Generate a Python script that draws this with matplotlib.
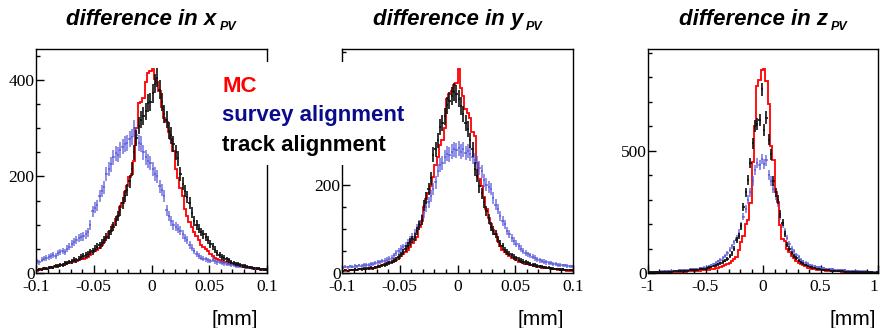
import numpy as np
import matplotlib
matplotlib.use("Agg")
import matplotlib.pyplot as plt
from matplotlib.patches import Rectangle
from matplotlib.ticker import FixedLocator, MultipleLocator, FuncFormatter

# ---------------------------------------------------------------
# data: 100 bins per histogram
x_range = (-0.1, 0.1)
y_range = (-0.1, 0.1)
z_range = (-1.0, 1.0)

x_mc = [5, 6, 9, 10, 9, 11, 12, 13, 14, 15,
        16, 17, 19, 21, 20, 22, 23, 24, 26, 28,
        30, 31, 33, 38, 43, 46, 48, 52, 58, 64,
        72, 84, 88, 100, 112, 118, 136, 146, 168, 180,
        198, 205, 232, 300, 352, 355, 362, 396, 415, 418,
        422, 402, 396, 378, 345, 322, 312, 292, 277, 252,
        216, 196, 176, 160, 132, 118, 106, 96, 86, 76,
        68, 58, 53, 49, 45, 40, 35, 32, 30, 27,
        25, 23, 22, 21, 19, 18, 16, 15, 14, 13,
        12, 11, 10, 10, 9, 8, 8, 7, 7, 6]
x_survey = [24, 22, 27, 30, 31, 33, 36, 38, 35, 42,
            44, 46, 43, 50, 54, 60, 64, 68, 72, 74,
            76, 80, 84, 100, 128, 135, 140, 160, 170, 178,
            205, 215, 225, 240, 248, 245, 255, 262, 268, 270,
            278, 282, 300, 285, 270, 268, 250, 240, 232, 228,
            215, 205, 200, 180, 172, 160, 130, 118, 108, 100,
            96, 92, 88, 80, 72, 68, 58, 52, 46, 40,
            36, 32, 30, 28, 26, 25, 27, 24, 22, 23,
            21, 20, 19, 18, 17, 16, 15, 14, 14, 13,
            12, 12, 11, 10, 10, 9, 9, 8, 8, 7]
x_track = [6, 8, 7, 10, 9, 11, 12, 11, 14, 15,
           17, 16, 20, 21, 23, 24, 27, 26, 30, 33,
           35, 37, 40, 44, 45, 50, 54, 57, 62, 68,
           74, 80, 88, 96, 108, 118, 130, 145, 160, 172,
           190, 215, 250, 280, 305, 318, 325, 335, 352, 355,
           372, 392, 405, 380, 355, 330, 318, 295, 285, 268,
           250, 238, 205, 185, 170, 158, 145, 125, 108, 100,
           92, 85, 80, 74, 68, 60, 55, 48, 42, 38,
           33, 31, 28, 26, 23, 21, 19, 18, 16, 15,
           14, 13, 12, 11, 10, 10, 9, 8, 8, 7]

y_mc = [4, 5, 5, 6, 6, 7, 7, 8, 8, 9,
        9, 10, 10, 11, 12, 14, 16, 18, 20, 22,
        24, 26, 28, 30, 35, 38, 42, 47, 52, 58,
        68, 75, 82, 105, 118, 150, 168, 180, 198, 218,
        245, 262, 290, 300, 328, 395, 405, 412, 425, 430,
        461, 418, 400, 372, 362, 350, 320, 310, 250, 212,
        196, 172, 145, 125, 110, 98, 88, 72, 60, 52,
        48, 44, 38, 35, 33, 30, 26, 24, 23, 21,
        20, 19, 18, 15, 14, 13, 12, 12, 11, 11,
        9, 8, 8, 7, 7, 6, 6, 5, 5, 5]
y_survey = [12, 14, 13, 15, 14, 16, 15, 17, 16, 18,
            19, 18, 20, 21, 22, 24, 25, 27, 28, 30,
            32, 35, 40, 45, 50, 55, 58, 62, 68, 75,
            82, 90, 100, 110, 122, 135, 150, 160, 175, 190,
            205, 232, 245, 250, 262, 270, 268, 275, 280, 278,
            282, 275, 280, 272, 276, 270, 262, 255, 250, 238,
            230, 210, 200, 195, 190, 170, 155, 145, 130, 118,
            110, 95, 88, 80, 72, 66, 60, 55, 50, 46,
            42, 40, 37, 34, 31, 29, 27, 26, 24, 23,
            22, 21, 20, 19, 18, 17, 17, 16, 15, 15]
y_track = [5, 6, 4, 7, 6, 8, 7, 9, 8, 10,
           10, 11, 12, 11, 13, 14, 15, 17, 18, 20,
           22, 25, 28, 30, 36, 42, 48, 55, 62, 70,
           76, 82, 95, 108, 120, 152, 170, 190, 215, 268,
           280, 300, 330, 340, 355, 380, 390, 400, 410, 405,
           395, 378, 360, 340, 325, 300, 280, 235, 220, 196,
           180, 160, 140, 122, 105, 96, 88, 76, 66, 60,
           52, 48, 44, 40, 36, 33, 30, 28, 26, 24,
           23, 21, 19, 18, 16, 15, 14, 13, 12, 12,
           11, 10, 9, 9, 8, 8, 7, 7, 6, 6]

z_mc = [2, 3, 2, 3, 3, 4, 3, 4, 4, 5,
        4, 5, 5, 6, 6, 7, 6, 7, 8, 8,
        9, 9, 10, 11, 12, 12, 14, 15, 17, 19,
        22, 25, 28, 32, 36, 42, 50, 58, 66, 95,
        125, 150, 200, 215, 285, 455, 600, 765, 790, 830,
        832, 785, 690, 520, 462, 330, 290, 195, 140, 132,
        100, 85, 68, 60, 50, 42, 38, 32, 28, 22,
        20, 18, 16, 14, 13, 12, 11, 10, 9, 9,
        8, 8, 7, 7, 6, 6, 5, 5, 5, 4,
        4, 4, 3, 4, 3, 3, 2, 3, 2, 2]
z_survey = [4, 5, 5, 6, 6, 7, 7, 8, 8, 9,
            9, 10, 10, 11, 12, 12, 13, 14, 15, 16,
            17, 18, 19, 20, 22, 25, 28, 32, 36, 42,
            48, 54, 62, 70, 80, 95, 110, 125, 145, 165,
            195, 230, 260, 300, 330, 375, 420, 450, 440, 465,
            445, 460, 400, 375, 345, 315, 285, 230, 200, 170,
            145, 120, 100, 88, 75, 65, 55, 48, 42, 38,
            33, 30, 28, 25, 23, 21, 19, 18, 17, 16,
            15, 14, 13, 12, 12, 11, 10, 10, 9, 9,
            8, 8, 7, 7, 7, 6, 6, 5, 5, 5]
z_track = [3, 4, 3, 5, 4, 4, 5, 6, 5, 6,
           6, 7, 7, 8, 8, 9, 9, 10, 11, 12,
           12, 13, 15, 16, 18, 20, 22, 25, 28, 32,
           35, 40, 45, 50, 58, 68, 80, 100, 135, 150,
           190, 270, 330, 380, 450, 530, 600, 610, 625, 750,
           585, 635, 545, 485, 375, 330, 300, 240, 205, 160,
           115, 100, 82, 70, 60, 50, 44, 38, 33, 28,
           25, 22, 20, 18, 16, 14, 13, 12, 11, 10,
           9, 9, 8, 7, 7, 6, 6, 5, 5, 5,
           4, 4, 4, 3, 4, 3, 3, 3, 2, 3]

panel_vars = ["x", "y", "z"]
major_x = [[-0.1, -0.05, 0, 0.05, 0.1], [-0.1, -0.05, 0, 0.05, 0.1], [-1, -0.5, 0, 0.5, 1]]
minor_x = [0.01, 0.01, 0.1]
major_y = [[0, 200, 400], [0, 200, 400], [0, 500]]
minor_y = [50, 50, 100]

legend_labels = ["MC", "survey alignment", "track alignment"]
legend_colors = ["#ff0000", "#0a0a8c", "#000000"]

# ---------------------------------------------------------------
plt.rcParams["font.family"] = "Liberation Serif"
plt.rcParams["axes.unicode_minus"] = False

W, H = 880, 328
fig = plt.figure(figsize=(W / 100, H / 100), dpi=100)
renderer = fig.canvas.get_renderer()

# axes boxes in pixels: left, right (top 49, bottom 273)
boxes = [(36, 267), (342, 573), (648, 878)]
top_px, bot_px = 49, 273
mm_pos = [0.962, 0.962, 0.99]

panels = [(x_range, x_mc, x_survey, x_track),
          (y_range, y_mc, y_survey, y_track),
          (z_range, z_mc, z_survey, z_track)]

fmt = FuncFormatter(lambda v, p: "%g" % v)
title_font = dict(family="Liberation Sans", weight="bold", style="italic")

for k, ((lo, hi), mc, survey, track) in enumerate(panels):
    l, r = boxes[k]
    ax = fig.add_axes([l / W, 1 - bot_px / H, (r - l) / W, (bot_px - top_px) / H])

    edges = np.linspace(lo, hi, len(mc) + 1)
    centers = 0.5 * (edges[1:] + edges[:-1])
    half = 0.5 * (edges[1] - edges[0])

    survey = np.array(survey, dtype=float)
    track = np.array(track, dtype=float)
    ax.errorbar(centers, survey, xerr=half, yerr=np.sqrt(survey), fmt="none",
                ecolor="#5252d8", elinewidth=1.2, alpha=0.75, capsize=0)
    ax.errorbar(centers, track, xerr=half, yerr=np.sqrt(track), fmt="none",
                ecolor="#111111", elinewidth=1.2, capsize=0)
    ax.stairs(mc, edges, baseline=None, color="#ff0000", lw=1.3)

    ax.set_xlim(lo, hi)
    ax.set_ylim(0, 1.1 * max(mc))

    ax.xaxis.set_major_locator(FixedLocator(major_x[k]))
    ax.xaxis.set_minor_locator(MultipleLocator(minor_x[k]))
    ax.yaxis.set_major_locator(FixedLocator(major_y[k]))
    ax.yaxis.set_minor_locator(MultipleLocator(minor_y[k]))
    ax.xaxis.set_major_formatter(fmt)
    ax.yaxis.set_major_formatter(fmt)
    ax.tick_params(which="both", direction="in", top=False, right=False,
                   labelsize=12.5, width=1.0)
    ax.tick_params(which="major", length=6)
    ax.tick_params(which="minor", length=3)
    ax.tick_params(axis="x", pad=4)
    ax.tick_params(axis="y", pad=1)
    for s in ax.spines.values():
        s.set_linewidth(1.0)

    # title with a small, lowered "PV" subscript
    main = fig.text(0, 1 - 25 / H, "difference in " + panel_vars[k],
                    fontsize=16, va="baseline", **title_font)
    sub = fig.text(0, 1 - 30 / H, "PV", fontsize=9, va="baseline", **title_font)
    wm = main.get_window_extent(renderer).width
    ws = sub.get_window_extent(renderer).width
    x0 = 0.5 * (l + r) - 0.5 * (wm + 3 + ws)
    main.set_x(x0 / W)
    sub.set_x((x0 + wm + 3) / W)

    ax.text(mm_pos[k], -(325 - bot_px) / (bot_px - top_px), "[mm]",
            transform=ax.transAxes, ha="right", va="baseline",
            fontsize=15, family="Liberation Sans")

# last label of the rightmost pad sits at the canvas edge
last = ax.get_xticklabels()[-1]
last.set_horizontalalignment("right")
last.set_x(last.get_position()[0])
fig.canvas.draw()
ax.get_xticklabels()[-1].set_horizontalalignment("right")

# legend: white box over the gap between the first two pads
fig.add_artist(Rectangle((212 / W, 1 - 165 / H), (415 - 212) / W, (165 - 62) / H,
                         transform=fig.transFigure, facecolor="white",
                         edgecolor="none", zorder=5))
for j, (lab, col) in enumerate(zip(legend_labels, legend_colors)):
    fig.text(222 / W, 1 - (91.7 + 29.5 * j) / H, lab, color=col,
             fontsize=16, fontweight="bold", family="Liberation Sans",
             va="baseline", zorder=6)

fig.savefig("out.png", dpi=100)
